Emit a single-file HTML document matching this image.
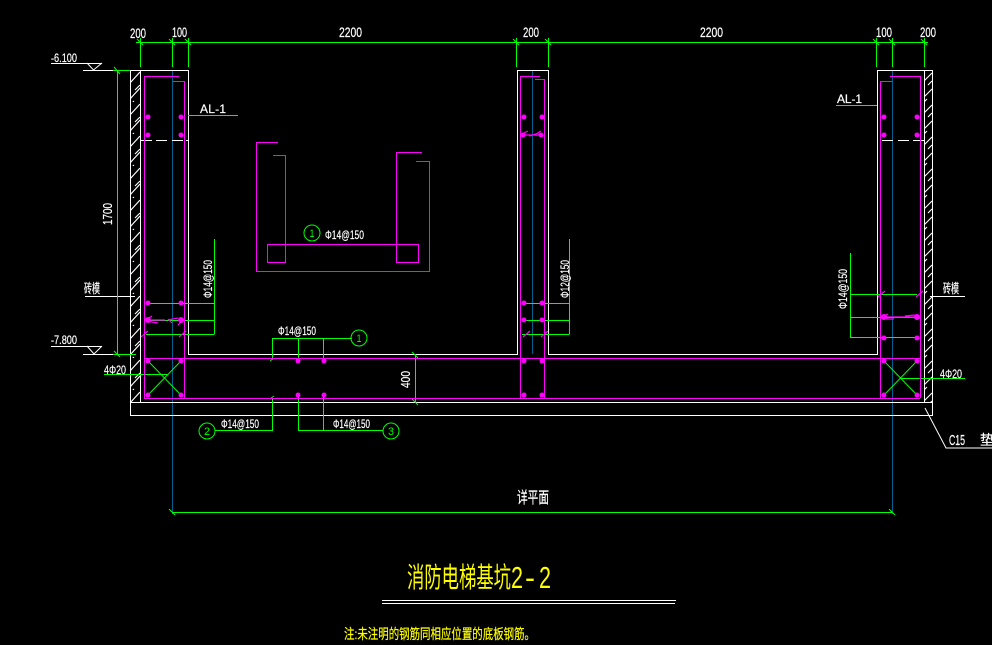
<!DOCTYPE html>
<html><head><meta charset="utf-8"><style>
html,body{margin:0;padding:0;background:#000;width:992px;height:645px;overflow:hidden}
svg{display:block}
text{font-family:"Liberation Sans","Noto Sans CJK SC",sans-serif;fill:#fff;stroke:#fff;stroke-width:.2}
.w{stroke:#fff;fill:none;stroke-width:1}
.g{stroke:#00ff00;fill:none;stroke-width:1}
.m{stroke:#ff00ff;fill:none;stroke-width:1}
.b{stroke:#00608f;fill:none;stroke-width:1}
.c{shape-rendering:crispEdges}
</style></head><body>
<svg width="992" height="645" viewBox="0 0 992 645" xmlns="http://www.w3.org/2000/svg">
<defs>
<pattern id="h" patternUnits="userSpaceOnUse" x="130" y="70" width="10" height="32">
<path d="M0 13L10 2M5 20L10 15M0 29L10 18M0 35L4 31" stroke="#fff" stroke-width="1.1" fill="none"/>
</pattern>
<pattern id="h2" patternUnits="userSpaceOnUse" x="924" y="70" width="8" height="32">
<path d="M0 11L8 3M4 15L8 11M0 27L8 19M0 32L3 29" stroke="#fff" stroke-width="1.1" fill="none"/>
</pattern>
</defs>
<rect width="992" height="645" fill="#000"/>
<rect x="130" y="70" width="10" height="332" fill="url(#h)"/>
<rect x="924" y="70" width="8" height="332" fill="url(#h2)"/>

<!-- blue centre lines -->
<g class="b c">
<path d="M172.5 70V514M532.5 70V354M892.5 70V514"/>
</g>

<!-- white structure -->
<g class="w c">
<path d="M129.5 70.5H188.5V354.5H517.5V70.5H548.5V354.5H877.5V70.5H932.5V415.5H130.5V70.5"/>
<path d="M140.5 70V402M924.5 70V402M130 402.5H932"/>
<path d="M83 70.5H113M51 63.5H102M51 346.5H102M83 354.5H113"/>
<path d="M85 296.5H135M930 296.5H965"/>
<path d="M140 140.5H152M156 140.5H167M172 140.5H183M186 140.5H188M882 140.5H893M898 140.5H909M913 140.5H925"/>
<path d="M382 600.5H676M382 603.5H675"/>
</g>
<g class="w">
<path d="M87 63L93.5 70L102 63M87 346L94 354L102 346"/>
<path d="M925 408L946 448H992"/>
</g>

<!-- green dimensions -->
<g class="g c">
<path d="M136 42.5H928M140.5 38V67M172.5 38V67M188.5 38V67M516.5 38V67M548.5 38V67M876.5 38V67M892.5 38V67M924.5 38V67"/>
<path d="M113 70.5H129M117.5 70V354M113 354.5H136"/>
<path d="M188 115.5H238M836 105.5H877"/>
<path d="M214.5 239V334.5M148 303.5H214M148 320.5H214M146 334.5H214"/>
<path d="M569.5 239V334.5M524 303.5H569M524 320.5H569M522 334.5H569"/>
<path d="M850.5 253V337.5M850 294.5H917M850 317.5H917M850 337.5H917"/>
<path d="M104 374.5H168M900 378.5H965"/>
<path d="M272.5 358V338.5H352M298.5 338V361M323.5 338V361"/>
<path d="M272.5 398V430.5H215M298.5 395V430.5H383M323.5 395V430"/>
<path d="M415.5 354V402"/>
<path d="M172 512.5H892"/>
</g>
<g class="g">
<path d="M137 39L143 45M169 39L175 45M185 39L191 45M513 39L519 45M545 39L551 45M873 39L879 45M889 39L895 45M921 39L927 45"/>
<path d="M114 67L120 74M114 351L120 357"/>
<path d="M412 352L418 358M412 399L418 405M169 509L175 515M889 509L895 515"/>
<path d="M270 361L274 358M270 399L274 396"/>
<path d="M148 361L181 395M181 361L148 395M884 361L917 395M917 361L884 395"/>
<circle cx="312" cy="233" r="8"/><circle cx="359" cy="338" r="8"/><circle cx="207" cy="431" r="8"/><circle cx="391" cy="431" r="8"/>
</g>

<!-- magenta rebar -->
<g class="m c">
<path d="M179 76.5H144.5V398.5H184.5V81.5H173"/>
<path d="M144 358.5H920M144 398.5H920"/>
<path d="M540 76.5H520.5V398M535 79.5H544.5V398"/>
<path d="M890 76.5H920.5V398M892 81.5H880.5V398"/>
<path d="M278 142.5H256.5V271.5H429.5V161.5H416"/>
<path d="M273 155.5H285.5V262.5H267.5V244.5H418.5V262.5H396.5V152.5H422"/>
</g>
<g class="m" style="stroke-width:1.2">
<path d="M146 320L152 316M146 321L158 323M146 320L165 320M168 320L178 318M181 322L178 325M168 319L172 323"/>
<path d="M522 135L542 135M522 134L528 131M529 136L536 134M536 134L541 131"/>
<path d="M884 317L917 317M884 316L888 314M886 319L894 319M905 316L915 315"/>
<path d="M141 337L148 331M179 337L186 331M523 337L530 331M541 337L548 331M878 297L885 291M916 297L923 291"/>
</g>
<g fill="#ff00ff">
<circle cx="148" cy="117" r="2.5"/><circle cx="181" cy="117" r="2.5"/><circle cx="148" cy="135" r="2.5"/><circle cx="181" cy="135" r="2.5"/>
<circle cx="148" cy="303" r="2.5"/><circle cx="181" cy="303" r="2.5"/><circle cx="148" cy="320" r="3"/><circle cx="181" cy="320" r="3"/>
<circle cx="148" cy="361" r="2.5"/><circle cx="181" cy="361" r="2.5"/><circle cx="148" cy="395" r="2.5"/><circle cx="181" cy="395" r="2.5"/>
<circle cx="298" cy="361" r="2.5"/><circle cx="324" cy="361" r="2.5"/><circle cx="298" cy="395" r="2.5"/><circle cx="324" cy="395" r="2.5"/>
<circle cx="524" cy="117" r="2.5"/><circle cx="542" cy="117" r="2.5"/><circle cx="523" cy="135" r="2.5"/><circle cx="541" cy="135" r="2.5"/>
<circle cx="524" cy="303" r="2.5"/><circle cx="542" cy="303" r="2.5"/><circle cx="524" cy="320" r="2.5"/><circle cx="542" cy="320" r="2.5"/>
<circle cx="524" cy="361" r="2.5"/><circle cx="542" cy="361" r="2.5"/><circle cx="524" cy="395" r="2.5"/><circle cx="542" cy="395" r="2.5"/>
<circle cx="884" cy="117" r="2.5"/><circle cx="917" cy="117" r="2.5"/><circle cx="884" cy="135" r="2.5"/><circle cx="917" cy="135" r="2.5"/>
<circle cx="884" cy="317" r="3"/><circle cx="917" cy="317" r="3"/><circle cx="884" cy="338" r="2.5"/><circle cx="917" cy="338" r="2.5"/>
<circle cx="884" cy="361" r="2.5"/><circle cx="917" cy="361" r="2.5"/><circle cx="884" cy="395" r="2.5"/><circle cx="917" cy="395" r="2.5"/>
</g>

<!-- labels -->
<g font-size="14">
<text x="130" y="38" textLength="16" lengthAdjust="spacingAndGlyphs">200</text>
<text x="172" y="37" textLength="15" lengthAdjust="spacingAndGlyphs">100</text>
<text x="339" y="37" textLength="23" lengthAdjust="spacingAndGlyphs">2200</text>
<text x="523" y="37" textLength="16" lengthAdjust="spacingAndGlyphs">200</text>
<text x="700" y="37" textLength="23" lengthAdjust="spacingAndGlyphs">2200</text>
<text x="876" y="37" textLength="16" lengthAdjust="spacingAndGlyphs">100</text>
<text x="920" y="37" textLength="16" lengthAdjust="spacingAndGlyphs">200</text>
<text x="51" y="62" font-size="12" textLength="26" lengthAdjust="spacingAndGlyphs">-6.100</text>
<text x="51" y="344" font-size="12" textLength="26" lengthAdjust="spacingAndGlyphs">-7.800</text>
<text x="200" y="113" font-size="12" textLength="28" letter-spacing="2" lengthAdjust="spacing">AL-1</text>
<text x="837" y="103" font-size="12" textLength="27" letter-spacing="2" lengthAdjust="spacing">AL-1</text>
<text x="84" y="293" font-size="13" textLength="16" lengthAdjust="spacingAndGlyphs">砖模</text>
<text x="943" y="293" font-size="13" textLength="16" lengthAdjust="spacingAndGlyphs">砖模</text>
<text x="104" y="374" font-size="12" textLength="22" lengthAdjust="spacingAndGlyphs">4Φ20</text>
<text x="940" y="378" font-size="12" textLength="22" lengthAdjust="spacingAndGlyphs">4Φ20</text>
<text x="949" y="445" font-size="15" textLength="16" lengthAdjust="spacingAndGlyphs">C15</text>
<text x="980" y="445" font-size="14" textLength="28" lengthAdjust="spacingAndGlyphs">垫层</text>
<text x="325" y="239" font-size="12" textLength="39" lengthAdjust="spacingAndGlyphs">Φ14@150</text>
<text x="278" y="335" font-size="12" textLength="38" lengthAdjust="spacingAndGlyphs">Φ14@150</text>
<text x="221" y="428" font-size="12" textLength="38" lengthAdjust="spacingAndGlyphs">Φ14@150</text>
<text x="333" y="428" font-size="12" textLength="37" lengthAdjust="spacingAndGlyphs">Φ14@150</text>
<text transform="translate(212 298) rotate(-90)" font-size="12" textLength="38" lengthAdjust="spacingAndGlyphs">Φ14@150</text>
<text transform="translate(569 298) rotate(-90)" font-size="12" textLength="38" lengthAdjust="spacingAndGlyphs">Φ12@150</text>
<text transform="translate(847 309) rotate(-90)" font-size="12" textLength="40" lengthAdjust="spacingAndGlyphs">Φ14@150</text>
<text transform="translate(112 225) rotate(-90)" font-size="13" textLength="22" lengthAdjust="spacingAndGlyphs">1700</text>
<text transform="translate(410 388) rotate(-90)" font-size="13" textLength="17" lengthAdjust="spacingAndGlyphs">400</text>
<text x="517" y="503" font-size="16" textLength="32" lengthAdjust="spacingAndGlyphs">详平面</text>
</g>
<g font-size="11">
<text x="309.5" y="237" style="fill:#0f0;stroke:none" textLength="5" lengthAdjust="spacingAndGlyphs">1</text>
<text x="356.5" y="342" style="fill:#0f0;stroke:none" textLength="5" lengthAdjust="spacingAndGlyphs">1</text>
<text x="204" y="435" style="fill:#0f0;stroke:none" textLength="6" lengthAdjust="spacingAndGlyphs">2</text>
<text x="388" y="435" style="fill:#0f0;stroke:none" textLength="6" lengthAdjust="spacingAndGlyphs">3</text>
</g>
<text x="407" y="587" font-size="28" style="fill:#ff0;stroke:none" textLength="104" lengthAdjust="spacingAndGlyphs">消防电梯基坑</text>
<text x="511" y="588" font-size="31" style="fill:#ff0;stroke:none;font-weight:normal" textLength="12" lengthAdjust="spacingAndGlyphs">2</text>
<text x="525" y="588" font-size="31" style="fill:#ff0;stroke:none" textLength="10" lengthAdjust="spacingAndGlyphs">-</text>
<text x="539" y="588" font-size="31" style="fill:#ff0;stroke:none" textLength="12" lengthAdjust="spacingAndGlyphs">2</text>
<text x="344" y="639" font-size="14" style="fill:#ff0;stroke:#ff0" textLength="191" lengthAdjust="spacingAndGlyphs">注:未注明的钢筋同相应位置的底板钢筋。</text>
</svg>
</body></html>
